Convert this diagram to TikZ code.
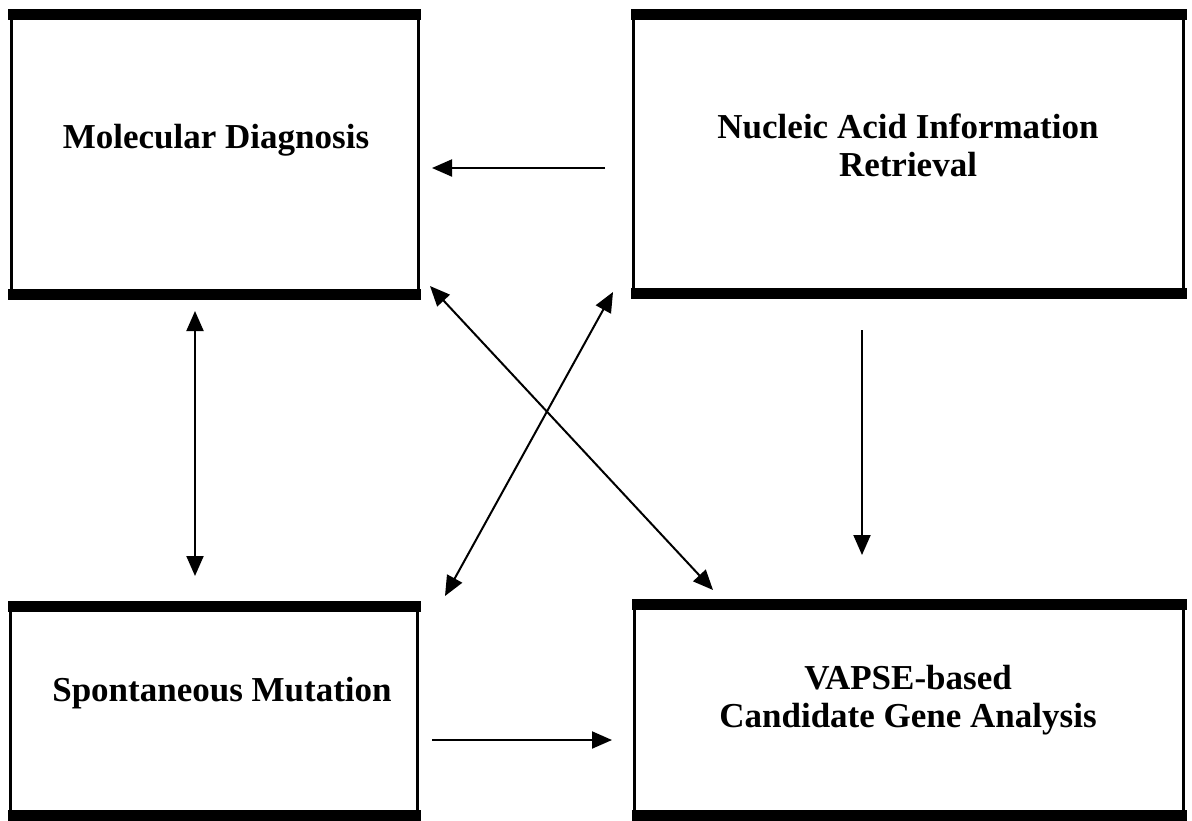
\documentclass[tikz,border=0pt]{standalone}
\usepackage{fontspec}
\setmainfont{Liberation Serif}
\usetikzlibrary{arrows.meta}
\tikzset{
  boxnode/.style={draw=black, line width=3pt, inner sep=0pt, fill=white},
  label/.style={font=\fontsize{35}{38}\selectfont\bfseries, align=center, text=black},
  conn/.style={line width=2pt, draw=black, -{Triangle[length=20pt,width=17pt]}},
  dconn/.style={line width=2pt, draw=black, {Triangle[length=20pt,width=17pt]}-{Triangle[length=20pt,width=17pt]}}
}
\newcommand{\bands}[1]{%
  \fill[black] ([shift={(-1.5pt,1.5pt)}]#1.north west) rectangle ([shift={(1.5pt,-9.5pt)}]#1.north east);
  \fill[black] ([shift={(-1.5pt,-1.5pt)}]#1.south west) rectangle ([shift={(1.5pt,9.5pt)}]#1.south east);
}
\begin{document}
\begin{tikzpicture}[x=1pt,y=-1pt]
\useasboundingbox (0,0) rectangle (1192,820);
\fill[white] (0,0) rectangle (1192,820);
% boxes
\node[boxnode, minimum width=407pt, minimum height=285pt] (md) at (214.5,154) {};
\node[boxnode, minimum width=550pt, minimum height=284pt] (na) at (908.5,153.5) {};
\node[boxnode, minimum width=407pt, minimum height=214pt] (sm) at (214,710.5) {};
\node[boxnode, minimum width=549pt, minimum height=216pt] (va) at (909,709.5) {};
\bands{md}\bands{na}\bands{sm}\bands{va}
% labels
\node[label] (mdt) at (216,140) {Molecular Diagnosis};
\node[label] (nat) at (908,145) {Nucleic Acid Information\\Retrieval};
\node[label] (smt) at (222,693) {Spontaneous Mutation};
\node[label] (vat) at (908,700) {VAPSE-based\\Candidate Gene Analysis};
% connector end points
\coordinate (a1s) at (605,168);  \coordinate (a1e) at (432,168);
\coordinate (a2s) at (195,311);  \coordinate (a2e) at (195,576);
\coordinate (a3s) at (862,330);  \coordinate (a3e) at (862,555);
\coordinate (a4s) at (432,740);  \coordinate (a4e) at (612,740);
\coordinate (a5s) at (430,286);  \coordinate (a5e) at (713,590);
\coordinate (a6s) at (613,292);  \coordinate (a6e) at (445,596);
% connectors
\draw[conn] (a1s) -- (a1e);
\draw[dconn] (a2s) -- (a2e);
\draw[conn] (a3s) -- (a3e);
\draw[conn] (a4s) -- (a4e);
\draw[dconn] (a5s) -- (a5e);
\draw[dconn] (a6s) -- (a6e);
\end{tikzpicture}
\end{document}
